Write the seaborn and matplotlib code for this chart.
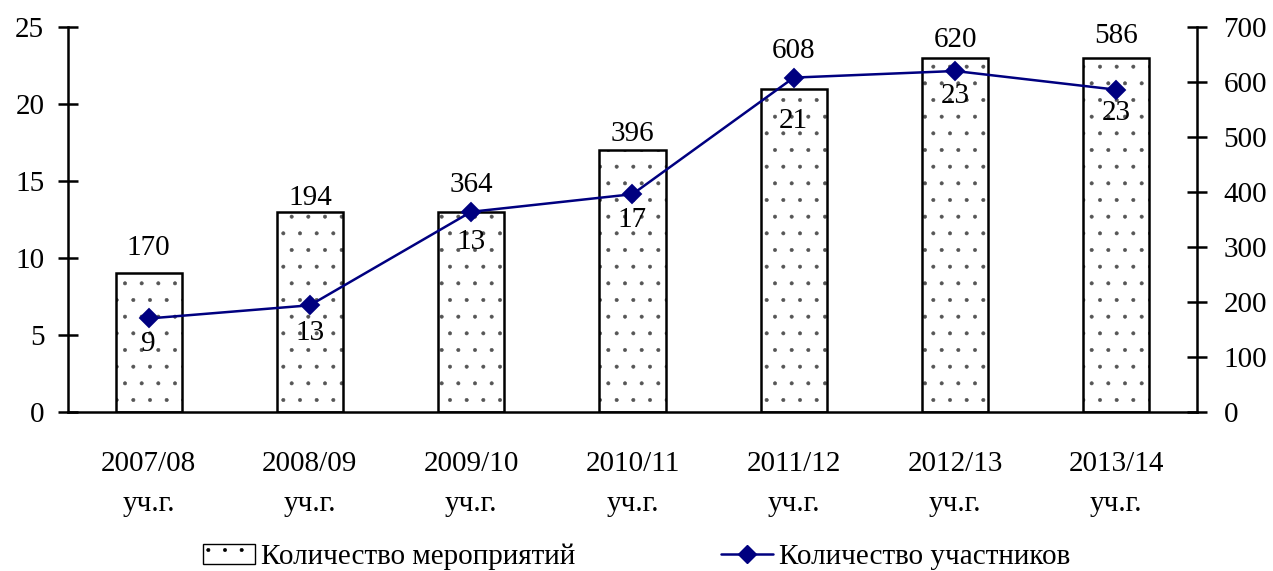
import numpy as np
import matplotlib.pyplot as plt
import matplotlib.ticker as mticker
from matplotlib.patches import Patch
from matplotlib.lines import Line2D
import seaborn as sns

# данные
years = ['2007/08', '2008/09', '2009/10', '2010/11', '2011/12', '2012/13', '2013/14']
events = [9, 13, 13, 17, 21, 23, 23]
participants = [170, 194, 364, 396, 608, 620, 586]

# смещения подписей в пикселях (подобраны по оригиналу)
part_label_dy = [25, 14, 27, 16, 38, 18, 22]
event_label_dy = [-26, -28, -30, -26, -43, -25, -23]

sns.set_style('white')
plt.rcParams['font.family'] = ['Liberation Serif', 'DejaVu Serif']
plt.rcParams['font.size'] = 21
plt.rcParams['text.color'] = 'black'
plt.rcParams['xtick.color'] = 'black'
plt.rcParams['ytick.color'] = 'black'
plt.rcParams['hatch.linewidth'] = 0.4

LINE_COLOR = '#000080'
FS = 21

fig, ax = plt.subplots(figsize=(12.73, 5.71), dpi=100)
fig.subplots_adjust(left=0.0534, right=0.9403, bottom=0.2785, top=0.9527)

# столбцы: точечная штриховка серым, контур чёрным
sns.barplot(x=years, y=events, ax=ax, color='white', edgecolor='#555555',
            linewidth=0, width=0.41, saturation=1)
for bar in ax.patches:
    bar.set_hatch('.')
sns.barplot(x=years, y=events, ax=ax, fill=False, edgecolor='black',
            linewidth=1.8, width=0.41, saturation=1)

ax2 = ax.twinx()
sns.pointplot(x=years, y=participants, ax=ax2, color=LINE_COLOR, markers='D',
              markersize=9, linewidth=1.8, errorbar=None)

n = len(years)
ax.set_xlim(-0.5, n - 0.5)
ax.set_ylim(0, 25)
ax2.set_ylim(0, 700)
ax.yaxis.set_major_locator(mticker.MultipleLocator(5))
ax2.yaxis.set_major_locator(mticker.MultipleLocator(100))

ax.set_xticks(range(n))
ax.set_xticklabels([f'{y}\nуч.г.' for y in years], linespacing=1.7)
ax.xaxis.set_minor_locator(mticker.FixedLocator(np.arange(n + 1) - 0.5))

ax.tick_params(axis='x', which='major', length=0, pad=28, labelsize=FS)
ax.tick_params(axis='x', which='minor', direction='inout', length=12, width=1.8)
ax.tick_params(axis='y', direction='inout', length=14, width=1.8, pad=10, labelsize=FS, left=True)
ax2.tick_params(axis='y', direction='inout', length=14, width=1.8, pad=12, labelsize=FS, right=True)

for a in (ax, ax2):
    a.set_xlabel('')
    a.set_ylabel('')
    a.spines['top'].set_visible(False)
    for s in a.spines.values():
        s.set_linewidth(1.8)
        s.set_color('black')
ax.spines['right'].set_visible(False)
ax2.spines['left'].set_visible(False)
ax2.spines['bottom'].set_visible(False)

# подписи значений
for i, (e, p) in enumerate(zip(events, participants)):
    ax.annotate(str(p), xy=(i, e), xytext=(0, part_label_dy[i]),
                textcoords='offset pixels', ha='center', va='center', fontsize=FS)
    ax2.annotate(str(e), xy=(i, p), xytext=(0, event_label_dy[i]),
                 textcoords='offset pixels', ha='center', va='center', fontsize=FS)

handles = [
    Patch(facecolor='white', edgecolor='black', hatch='.', linewidth=1.0),
    Line2D([], [], color=LINE_COLOR, marker='D', markersize=9, linewidth=1.8),
]
fig.legend(handles, ['Количество мероприятий', 'Количество участников'],
           loc='lower center', bbox_to_anchor=(0.5, -0.045), ncol=2, frameon=False,
           columnspacing=5.0, handlelength=1.8, handletextpad=0.2, fontsize=FS)

fig.savefig('out.png', dpi=100)
